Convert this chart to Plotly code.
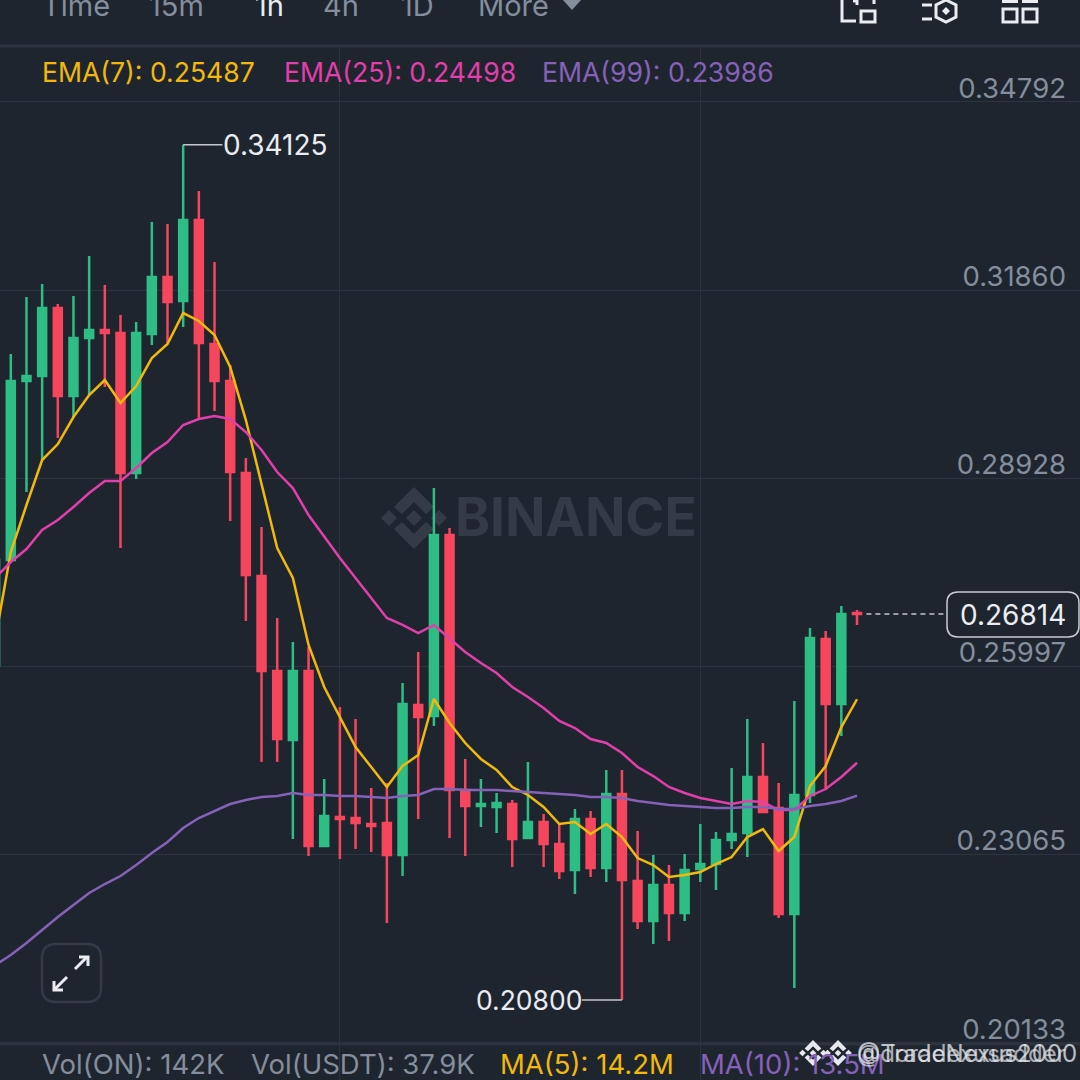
"""
One hour candles with EMA lines, in the dark mobile trading app style.
"""
import plotly.graph_objects as go

BG = '#1F252F'
GRID = '#2D333F'
GREEN = '#2EBD85'
RED = '#F6465D'
ORANGE = '#F0B90B'
PINK = '#E13FAA'
PURPLE = '#8562B8'
GRAY = '#848E9C'
WHITE = '#EAECEF'
MARK = '#353B46'
FONT = 'Inter'

slots = list(range(-1, 55))
opens = [
    .26020, .27656, .30445, .30523, .31582, .30211, .31115, .31240, .31193, .29012, .31177, .32065, .31691, .32953,
    .31021, .30445, .29012, .27408, .25927, .24852, .25927, .23200, .23652, .23637, .23543, .23559, .23060, .25397,
    .25226, .28046, .24073, .23824, .23808, .23855, .23325, .23574, .23231, .22826, .23621, .22857, .24011, .22655,
    .22032, .22593, .22157, .22842, .22920, .23294, .23403, .24275, .23792, .22141, .23995, .26425, .25413, .26831,
]
highs = [
    .27656, .30866, .31754, .31956, .31645, .31769, .32393, .31941, .31473, .31364, .32922, .32891, .34125, .33405,
    .32299, .30694, .29245, .28170, .26753, .26379, .26301, .24244, .25366, .25179, .24104, .24182, .25740, .26223,
    .28778, .28155, .24556, .24244, .24026, .23917, .24509, .23699, .23559, .23777, .23746, .24385, .24385, .23434,
    .23060, .22904, .23076, .23543, .23418, .24416, .25179, .24805, .24182, .25459, .26597, .26550, .26939, .26877,
]
lows = [
    .26020, .27656, .28716, .29214, .29557, .29884, .30227, .30352, .27843, .28918, .31006, .31037, .31286, .29869,
    .29978, .28264, .26706, .24509, .24509, .23309, .23045, .23200, .22998, .23153, .23107, .22001, .22733, .23621,
    .25070, .23325, .23045, .23496, .23403, .22873, .23325, .22873, .22686, .22452, .22717, .22639, .20800, .21907,
    .21673, .21720, .22032, .22639, .22515, .23153, .23029, .23730, .22079, .20988, .23870, .24073, .24914, .26643,
]
closes = [
    .27656, .30445, .30523, .31582, .30211, .31115, .31240, .31193, .29012, .31193, .32065, .31676, .32953, .31037,
    .30445, .29027, .27423, .25927, .24867, .25927, .23200, .23668, .23621, .23559, .23512, .23060, .25413, .25210,
    .28046, .24073, .23824, .23855, .23870, .23309, .23574, .23231, .22811, .23621, .22857, .24011, .22670, .22032,
    .22593, .22157, .22826, .22920, .23294, .23387, .24275, .23730, .22141, .23995, .26441, .25413, .26815, .26814,
]
ema7 = [
    .26410, .27781, .28513, .29214, .29463, .29884, .30227, .30461, .30102, .30367, .30803, .31021, .31504, .31380,
    .31162, .30663, .29837, .28856, .27843, .27376, .26332, .25678, .25210, .24742, .24431, .24120, .24447, .24618,
    .25491, .25117, .24805, .24556, .24385, .24120, .23995, .23808, .23543, .23574, .23387, .23543, .23340, .23013,
    .22904, .22717, .22748, .22795, .22920, .23029, .23340, .23465, .23122, .23340, .24135, .24447, .25054, .25487,
]
ema25 = [
    .27376, .27625, .27828, .28123, .28280, .28482, .28700, .28887, .28887, .29090, .29323, .29495, .29760, .29853,
    .29900, .29853, .29650, .29370, .29027, .28778, .28357, .28015, .27688, .27376, .27064, .26753, .26644, .26519,
    .26644, .26441, .26223, .26052, .25896, .25678, .25522, .25350, .25148, .25039, .24867, .24805, .24649, .24431,
    .24290, .24120, .24026, .23948, .23901, .23855, .23901, .23886, .23761, .23761, .23980, .24088, .24275, .24498,
]
ema99 = [
    .21346, .21502, .21689, .21892, .22094, .22281, .22468, .22608, .22733, .22904, .23091, .23263, .23481, .23637,
    .23746, .23855, .23917, .23964, .23980, .24026, .23995, .23995, .23980, .23980, .23964, .23948, .23980, .23995,
    .24088, .24088, .24073, .24073, .24073, .24057, .24042, .24026, .24011, .23995, .23964, .23964, .23948, .23901,
    .23870, .23839, .23824, .23808, .23792, .23792, .23808, .23808, .23777, .23777, .23824, .23855, .23901, .23986,
]
price_ticks = [0.34792, 0.31860, 0.28928, 0.25997, 0.23065, 0.20133]
time_ticks = [21, 44]
last_price = 0.26814
high_price = 0.34125
low_price = 0.20800
intervals = ['Time', '15m', '1h', '4h', '1D', 'More']
ema_labels = ['EMA(7): 0.25487', 'EMA(25): 0.24498', 'EMA(99): 0.23986']
vol_labels = ['Vol(ON): 142K', 'Vol(USDT): 37.9K', 'MA(5): 14.2M', 'MA(10): 13.5M']


def px(x):
    return x / 1080


def py(y):
    return 1 - y / 1080


def polygon(points, fill=None, stroke=None, width=0, layer='above', close=True):
    """Shape from a list of page pixel points."""
    path = 'M ' + ' L '.join(f'{px(x):.5f} {py(y):.5f}' for x, y in points)
    if close:
        path += ' Z'
    return dict(
        type='path', xref='paper', yref='paper', path=path, layer=layer,
        fillcolor=fill if fill else 'rgba(0,0,0,0)',
        line=dict(color=stroke if stroke else 'rgba(0,0,0,0)', width=width)
    )


def rounded(x0, y0, x1, y1, r, fill=None, stroke=None, width=0):
    """Rounded rectangle in page pixels."""
    q = ' '.join
    path = q([
        f'M {px(x0 + r):.5f} {py(y0):.5f}', f'L {px(x1 - r):.5f} {py(y0):.5f}',
        f'Q {px(x1):.5f} {py(y0):.5f} {px(x1):.5f} {py(y0 + r):.5f}', f'L {px(x1):.5f} {py(y1 - r):.5f}',
        f'Q {px(x1):.5f} {py(y1):.5f} {px(x1 - r):.5f} {py(y1):.5f}', f'L {px(x0 + r):.5f} {py(y1):.5f}',
        f'Q {px(x0):.5f} {py(y1):.5f} {px(x0):.5f} {py(y1 - r):.5f}', f'L {px(x0):.5f} {py(y0 + r):.5f}',
        f'Q {px(x0):.5f} {py(y0):.5f} {px(x0 + r):.5f} {py(y0):.5f}', 'Z',
    ])
    return dict(
        type='path', xref='paper', yref='paper', path=path, layer='above',
        fillcolor=fill if fill else 'rgba(0,0,0,0)',
        line=dict(color=stroke if stroke else 'rgba(0,0,0,0)', width=width)
    )


def logo(cx, cy, s, color, layer):
    """Binance diamond mark, s is the scale against the big one in the chart."""
    top = [(0, -31), (20, -11), (12, -4), (0, -16), (-12, -4), (-20, -11)]
    bottom = [(x, -y) for x, y in top]
    middle = [(0, -8), (8, 0), (0, 8), (-8, 0)]
    shapes = []
    for part in (top, bottom, middle):
        shapes.append(polygon([(cx + s * x, cy + s * y) for x, y in part], fill=color, layer=layer))
    for dx in (-25, 25):
        shapes.append(polygon([(cx + s * (x + dx), cy + s * y) for x, y in middle], fill=color, layer=layer))
    return shapes


def label(x, y, text, color, size=26.6, anchor='left', font=FONT):
    return dict(
        xref='paper', yref='paper', x=px(x), y=py(y), text=text, showarrow=False,
        xanchor=anchor, yanchor='middle', align=anchor,
        font=dict(family=font, size=size, color=color)
    )


fig = go.Figure()

fig.add_trace(
    go.Candlestick(
        x=slots, open=opens, high=highs, low=lows, close=closes,
        increasing=dict(line=dict(color=GREEN, width=2.5), fillcolor=GREEN),
        decreasing=dict(line=dict(color=RED, width=2.5), fillcolor=RED),
        whiskerwidth=0, hoverinfo='skip'
    )
)

for values, color in ((ema7, ORANGE), (ema25, PINK), (ema99, PURPLE)):
    fig.add_trace(
        go.Scatter(x=slots, y=values, mode='lines', line=dict(color=color, width=2.5), hoverinfo='skip')
    )

shapes = []
shapes += logo(414, 518, 1, MARK, 'below')

# header strip hides the grid above the top separator
shapes.append(polygon([(0, 0), (1080, 0), (1080, 45), (0, 45)], fill=BG))
shapes.append(polygon([(0, 46), (1080, 46)], stroke=GRID, width=3, close=False))
shapes.append(polygon([(0, 1044), (1080, 1044)], stroke=GRID, width=3, close=False))
shapes.append(polygon([(563, 0), (581, 0), (572, 10)], fill=GRAY))

# toolbar icons, cut by the top of the page
shapes.append(polygon([(842, 0), (842, 21), (856, 21)], stroke=WHITE, width=3, close=False))
shapes.append(polygon([(861, 11), (875, 11), (875, 22), (861, 22)], stroke=WHITE, width=3))
shapes.append(polygon([(874, 0), (874, 4)], stroke=WHITE, width=3, close=False))
shapes.append(polygon([(853, 1), (857, 1), (857, 5)], stroke=WHITE, width=3, close=False))
shapes.append(polygon([(922, 5), (932, 5)], stroke=WHITE, width=3, close=False))
shapes.append(polygon([(922, 19), (932, 19)], stroke=WHITE, width=3, close=False))
shapes.append(polygon([(946, 0), (956, 5), (956, 17), (946, 22), (936, 17), (936, 5)], stroke=WHITE, width=3))
shapes.append(polygon([(946, 7), (950, 11), (946, 15), (942, 11)], fill=WHITE))
for left in (1003, 1023):
    shapes.append(polygon([(left, 9), (left + 14, 9), (left + 14, 22), (left, 22)], stroke=WHITE, width=3))
    shapes.append(polygon([(left - 1, 1), (left + 15, 1)], stroke=WHITE, width=4, close=False))

# expand button
shapes.append(rounded(42, 944, 101, 1002, 14, stroke='#343A46', width=2.5))
shapes.append(polygon([(75, 969), (87, 957)], stroke=WHITE, width=3, close=False))
shapes.append(polygon([(79, 957), (88, 957), (88, 966)], stroke=WHITE, width=3, close=False))
shapes.append(polygon([(67, 977), (55, 989)], stroke=WHITE, width=3, close=False))
shapes.append(polygon([(54, 981), (54, 990), (63, 990)], stroke=WHITE, width=3, close=False))

# high and low connectors, last price line and box
shapes.append(dict(type='line', x0=11, x1=13.5, y0=high_price, y1=high_price, line=dict(color='#C4C7CC', width=1.5)))
shapes.append(dict(type='line', x0=36.45, x1=39, y0=low_price, y1=low_price, line=dict(color='#C4C7CC', width=1.5)))
shapes.append(dict(
    type='line', x0=54.6, x1=59.7, y0=last_price, y1=last_price,
    line=dict(color='#C4C7CC', width=1.5, dash='5px,4px')
))
shapes.append(rounded(947, 592, 1079, 637, 11, fill=BG, stroke='#C9CCD1', width=1.5))

# corner watermark over the volume row
shapes += logo(813, 1053, 0.42, '#E6E8EB', 'above')
shapes += logo(838, 1053, 0.42, '#E6E8EB', 'above')

annotations = []
header_x = (40, 147, 253, 321, 399, 476)
header_colors = (GRAY, GRAY, WHITE, GRAY, GRAY, GRAY)
for text, x, color in zip(intervals, header_x, header_colors):
    annotations.append(label(x, 6, text, color, size=29))
for text, x, color in zip(ema_labels, (40, 282, 540), (ORANGE, PINK, PURPLE)):
    annotations.append(label(x, 72, text, color))
for text, x, color in zip(vol_labels, (40, 249, 498, 698), (GRAY, GRAY, ORANGE, PURPLE)):
    annotations.append(label(x, 1064, text, color, size=27.5))

annotations.append(dict(
    x=13.4, y=high_price, text=f'{high_price:.5f}', showarrow=False, xanchor='left', yanchor='middle',
    font=dict(family=FONT, size=28, color=WHITE)
))
annotations.append(dict(
    x=36.55, y=low_price, text=f'{low_price:.5f}', showarrow=False, xanchor='right', yanchor='middle',
    font=dict(family=FONT, size=26.5, color=WHITE)
))
annotations.append(label(1013, 615, f'{last_price:.5f}', WHITE, size=28, anchor='center'))
annotations.append(label(453, 517, '<b>BINANCE</b>', MARK, size=53))
annotations.append(label(855, 1053, '@TradeNexus2000', 'rgba(230,232,235,0.8)', size=24))
annotations.append(label(855, 1053, '@doradexusadder', 'rgba(230,232,235,0.7)', size=24))

fig.update_layout(
    width=1080,
    height=1080,
    margin=dict(l=0, r=0, t=0, b=0),
    paper_bgcolor=BG,
    plot_bgcolor=BG,
    showlegend=False,
    boxgap=0.27,
    shapes=shapes,
    annotations=annotations
)

fig.update_xaxes(
    range=[-0.689, 68.23], rangeslider=dict(visible=False),
    tickvals=time_ticks, showticklabels=False, ticks='',
    showgrid=True, gridcolor=GRID, gridwidth=1, zeroline=False
)

fig.update_yaxes(
    range=[0.19555, 0.36381], side='right', ticklabelposition='inside',
    tickvals=price_ticks, tickformat='.5f', ticks='',
    ticklabelshift=-14, ticklabelstandoff=11,
    tickfont=dict(family=FONT, size=27.5, color=GRAY),
    showgrid=True, gridcolor=GRID, gridwidth=1, zeroline=False
)

fig.write_html(
    'out.html',
    config=dict(displayModeBar=False),
    post_script="document.body.style.margin='0';document.body.style.overflow='hidden';"
)
